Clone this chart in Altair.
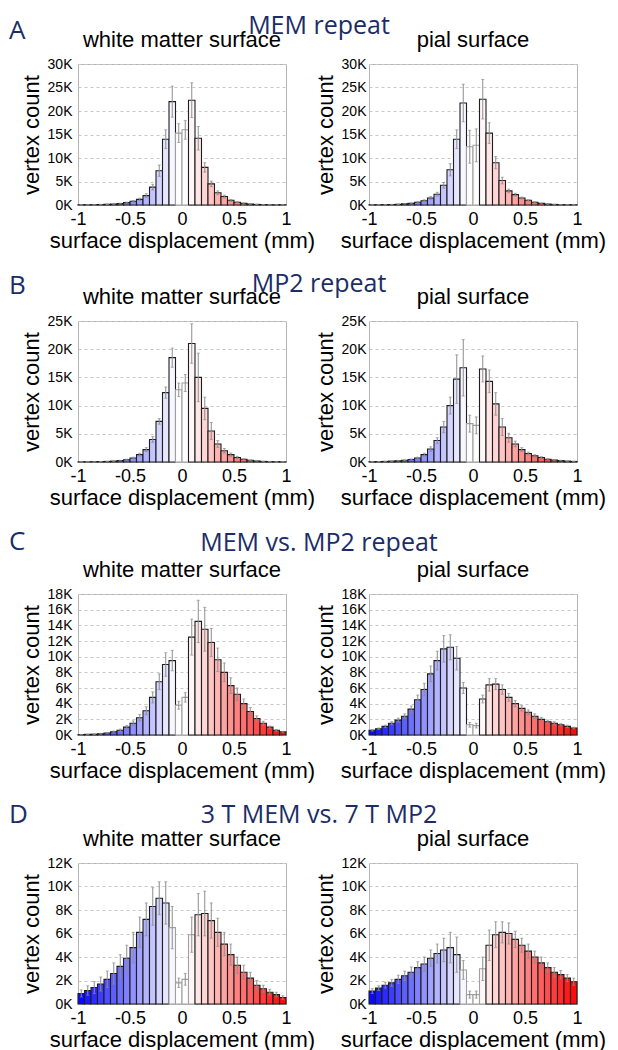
import altair as alt
import numpy as np
import pandas as pd

# ---------------- data ----------------
N_BINS = 32
bin_edges = np.linspace(-1.0, 1.0, N_BINS + 1)

row_letters = ["A", "B", "C", "D"]
row_titles = ["MEM repeat", "MP2 repeat", "MEM vs. MP2 repeat", "3 T MEM vs. 7 T MP2"]
surface_titles = ["white matter surface", "pial surface"]
y_max = [30, 25, 18, 12]
y_step = [5, 5, 2, 2]
x_ticks = [-1, -0.5, 0, 0.5, 1]

# vertex counts in thousands, 32 bins from -1 to 1 mm
A_white = [0.05, 0.05, 0.05, 0.1, 0.15, 0.2, 0.3, 0.5, 0.8, 1.2, 2.0, 3.8, 7.3, 14.0, 22.0, 15.3,
           16.0, 22.3, 14.2, 8.0, 4.5, 2.6, 1.8, 1.0, 0.6, 0.35, 0.2, 0.12, 0.08, 0.05, 0.05, 0.05]
A_white_err = [0.02, 0.02, 0.02, 0.03, 0.04, 0.05, 0.08, 0.1, 0.15, 0.25, 0.4, 0.6, 1.2, 2.0, 3.3, 2.0,
               2.0, 3.7, 2.5, 1.0, 0.6, 0.4, 0.3, 0.2, 0.1, 0.08, 0.05, 0.03, 0.02, 0.02, 0.02, 0.02]
A_pial = [0.05, 0.05, 0.08, 0.1, 0.15, 0.25, 0.35, 0.6, 0.9, 1.5, 2.3, 4.2, 7.5, 14.0, 21.7, 12.4,
          12.7, 22.5, 15.3, 9.0, 5.2, 3.0, 2.2, 1.5, 1.0, 0.6, 0.35, 0.2, 0.12, 0.08, 0.05, 0.05]
A_pial_err = [0.02, 0.02, 0.03, 0.03, 0.04, 0.06, 0.08, 0.12, 0.2, 0.3, 0.4, 0.6, 1.3, 2.0, 4.0, 3.5,
              3.5, 4.2, 2.2, 1.3, 0.7, 0.4, 0.3, 0.2, 0.15, 0.1, 0.06, 0.04, 0.03, 0.02, 0.02, 0.02]
B_white = [0.03, 0.03, 0.05, 0.07, 0.1, 0.15, 0.25, 0.4, 0.7, 1.3, 2.2, 4.0, 7.2, 12.3, 18.5, 12.8,
           14.0, 21.0, 15.0, 9.5, 5.5, 3.2, 2.0, 1.3, 0.8, 0.5, 0.3, 0.18, 0.1, 0.07, 0.05, 0.03]
B_white_err = [0.01, 0.01, 0.02, 0.02, 0.03, 0.04, 0.06, 0.1, 0.15, 0.25, 0.35, 0.5, 0.5, 1.0, 1.7, 1.2,
               1.5, 3.5, 4.3, 2.0, 1.5, 0.6, 0.4, 0.3, 0.2, 0.1, 0.06, 0.04, 0.03, 0.02, 0.01, 0.01]
B_pial = [0.05, 0.07, 0.1, 0.15, 0.2, 0.3, 0.45, 0.7, 1.3, 2.3, 3.8, 6.2, 10.0, 14.7, 16.7, 6.8,
          6.5, 16.5, 14.3, 10.3, 6.2, 4.3, 3.2, 2.2, 1.5, 1.1, 0.8, 0.5, 0.35, 0.25, 0.15, 0.1]
B_pial_err = [0.02, 0.02, 0.03, 0.04, 0.05, 0.07, 0.1, 0.15, 0.25, 0.4, 0.5, 1.0, 1.5, 4.3, 5.0, 1.5,
              1.5, 2.3, 2.0, 2.0, 1.5, 0.8, 0.5, 0.35, 0.25, 0.2, 0.15, 0.1, 0.07, 0.05, 0.03, 0.02]
C_white = [0.05, 0.08, 0.1, 0.15, 0.25, 0.4, 0.6, 1.0, 1.5, 2.2, 3.1, 4.8, 6.8, 9.0, 9.5, 3.8,
           4.8, 12.5, 14.5, 13.5, 11.8, 9.6, 8.0, 6.3, 5.2, 4.0, 3.0, 2.1, 1.5, 1.0, 0.6, 0.4]
C_white_err = [0.02, 0.03, 0.03, 0.05, 0.07, 0.1, 0.15, 0.2, 0.3, 0.4, 0.5, 0.7, 1.0, 1.5, 1.3, 0.5,
               0.6, 2.3, 2.7, 2.8, 1.8, 1.5, 1.2, 1.0, 0.8, 0.6, 0.5, 0.35, 0.25, 0.15, 0.1, 0.07]
C_pial = [0.6, 0.8, 1.1, 1.5, 1.9, 2.4, 3.3, 4.5, 5.8, 7.8, 9.5, 11.0, 11.2, 9.8, 6.0, 1.3,
          1.2, 4.6, 6.4, 6.5, 5.8, 4.8, 4.0, 3.4, 2.9, 2.4, 2.0, 1.7, 1.5, 1.3, 1.1, 0.9]
C_pial_err = [0.1, 0.1, 0.15, 0.2, 0.25, 0.3, 0.4, 0.6, 0.8, 1.0, 1.2, 1.7, 1.6, 1.5, 0.7, 0.3,
              0.3, 0.5, 0.8, 0.7, 0.6, 0.5, 0.4, 0.35, 0.3, 0.3, 0.25, 0.2, 0.2, 0.15, 0.15, 0.1]
D_white = [0.9, 1.15, 1.4, 1.7, 2.1, 2.6, 3.2, 3.9, 4.8, 6.1, 7.2, 8.3, 9.0, 8.6, 6.5, 1.8,
           2.1, 5.9, 7.6, 7.7, 7.1, 6.1, 5.1, 4.2, 3.3, 2.7, 2.2, 1.6, 1.3, 1.0, 0.8, 0.55]
D_white_err = [0.3, 0.4, 0.5, 0.6, 0.7, 0.9, 1.0, 1.1, 1.3, 1.3, 1.4, 1.6, 1.4, 1.8, 1.8, 0.4,
               0.5, 1.5, 1.8, 1.9, 1.5, 1.2, 1.0, 0.9, 0.7, 0.6, 0.5, 0.4, 0.3, 0.25, 0.2, 0.15]
D_pial = [1.1, 1.35, 1.6, 1.8, 2.1, 2.4, 2.7, 3.1, 3.4, 3.9, 4.3, 4.6, 4.8, 4.2, 2.9, 0.8,
          0.8, 3.0, 5.0, 5.9, 6.1, 6.0, 5.5, 5.0, 4.5, 4.0, 3.5, 3.1, 2.7, 2.5, 2.2, 1.9]
D_pial_err = [0.2, 0.2, 0.25, 0.3, 0.35, 0.4, 0.45, 0.5, 0.6, 0.7, 0.8, 1.0, 1.3, 1.5, 0.8, 0.3,
              0.3, 1.0, 1.3, 1.1, 0.9, 0.9, 0.7, 0.6, 0.6, 0.5, 0.5, 0.4, 0.4, 0.35, 0.3, 0.3]

# bins drawn with a grey outline (below threshold)
A_white_grey = [15, 16]
A_pial_grey = [15, 16]
B_white_grey = [15, 16]
B_pial_grey = [15, 16]
C_white_grey = [15, 16]
C_pial_grey = [15, 16]
D_white_grey = [14, 15, 16, 17]
D_pial_grey = [14, 15, 16, 17]

panels = [
    [(A_white, A_white_err, A_white_grey), (A_pial, A_pial_err, A_pial_grey)],
    [(B_white, B_white_err, B_white_grey), (B_pial, B_pial_err, B_pial_grey)],
    [(C_white, C_white_err, C_white_grey), (C_pial, C_pial_err, C_pial_grey)],
    [(D_white, D_white_err, D_white_grey), (D_pial, D_pial_err, D_pial_grey)],
]

# ---------------- layout / style ----------------
W, H = 208, 141
TXT = "#1b2d66"
letter_y = [-25, -27, -44, -40]
title_y = [-30, -29, -43, -40]
FONT = "Liberation Sans"


def make_panel(row, col):
    vals, errs, grey = panels[row][col]
    df = pd.DataFrame({
        "start": bin_edges[:-1],
        "end": bin_edges[1:],
        "center": (bin_edges[:-1] + bin_edges[1:]) / 2,
        "count": vals,
        "err": errs,
    })
    df["lo"] = df["count"] - df["err"]
    df["hi"] = df["count"] + df["err"]
    df["kind"] = ["ns" if i in grey else "sig" for i in range(N_BINS)]

    xs = alt.Scale(domain=[-1, 1], nice=False, zero=False, padding=0)
    ys = alt.Scale(domain=[0, y_max[row]], nice=False, padding=0)
    xaxis = alt.Axis(values=x_ticks, labelExpr="'' + datum.value", grid=False,
                     title="surface displacement (mm)", labelOverlap=False, labelFlush=False)
    yaxis = alt.Axis(values=list(range(0, y_max[row] + 1, y_step[row])),
                     labelExpr="datum.value + 'K'", grid=True, title="vertex count",
                     labelOverlap=False, labelFlush=False,
                     labelPadding=6 if col == 0 else 3)

    base = alt.Chart(df)
    bars = base.mark_bar(strokeWidth=1.1, orient="vertical").encode(
        x=alt.X("start:Q", scale=xs, axis=xaxis),
        x2="end:Q",
        y=alt.Y("count:Q", scale=ys, axis=yaxis),
        y2=alt.datum(0),
        fill=alt.Fill("center:Q", scale=alt.Scale(domain=[-1, -0.0625, 0.0625, 1],
                                                 range=["#0000ff", "#ffffff", "#ffffff", "#ff0000"],
                                                 interpolate="rgb"),
                      legend=None),
        stroke=alt.Stroke("kind:N", scale=alt.Scale(domain=["sig", "ns"], range=["#1e1e1e", "#a0a0a0"]),
                          legend=None),
    )
    ex = alt.X("center:Q", scale=xs, axis=xaxis)
    rules = base.mark_rule(color="#8c8c8c", strokeWidth=1).encode(
        x=ex, y=alt.Y("lo:Q", scale=ys, axis=yaxis), y2="hi:Q")
    cap_hi = base.mark_tick(color="#8c8c8c", orient="horizontal", size=3, thickness=1).encode(
        x=ex, y=alt.Y("hi:Q", scale=ys, axis=yaxis))
    cap_lo = base.mark_tick(color="#8c8c8c", orient="horizontal", size=3, thickness=1).encode(
        x=ex, y=alt.Y("lo:Q", scale=ys, axis=yaxis))

    sub = alt.Chart(pd.DataFrame({"t": [surface_titles[col]]})).mark_text(
        font=FONT, fontSize=22, color="black", align="center", baseline="alphabetic"
    ).encode(text="t:N", x=alt.value(W / 2), y=alt.value(-17))

    layers = [bars, rules, cap_hi, cap_lo, sub]
    if col == 0:
        ttl = alt.Chart(pd.DataFrame({"t": [row_titles[row]]})).mark_text(
            font="Open Sans", fontSize=25, color=TXT, align="center", baseline="alphabetic"
        ).encode(text="t:N", x=alt.value(241), y=alt.value(title_y[row]))
        let = alt.Chart(pd.DataFrame({"t": [row_letters[row]]})).mark_text(
            font="Open Sans", fontSize=26, color=TXT, align="left", baseline="alphabetic"
        ).encode(text="t:N", x=alt.value(-69), y=alt.value(letter_y[row]))
        layers += [ttl, let]
    return alt.layer(*layers).properties(width=W, height=H)


rows = [
    alt.hconcat(make_panel(r, 0), make_panel(r, 1), spacing=83, bounds="flush")
    for r in range(4)
]

chart = alt.vconcat(*rows, spacing=19).properties(
    padding={"top": 5, "left": 0, "right": 2, "bottom": 2}
).configure_view(
    stroke="#b4b4b4", strokeWidth=1
).configure_axis(
    labelFont=FONT, labelFontSize=14, labelColor="black",
    titleFont=FONT, titleFontSize=22, titleFontWeight="normal", titleColor="black",
    ticks=False, domain=False,
    gridColor="#c8c8c8", gridDash=[3, 3], gridWidth=1,
).configure_axisX(labelFontSize=18, labelPadding=5, titlePadding=2).configure_axisY(titlePadding=4)

chart.save("out.html", embed_options={"renderer": "svg", "actions": False})
